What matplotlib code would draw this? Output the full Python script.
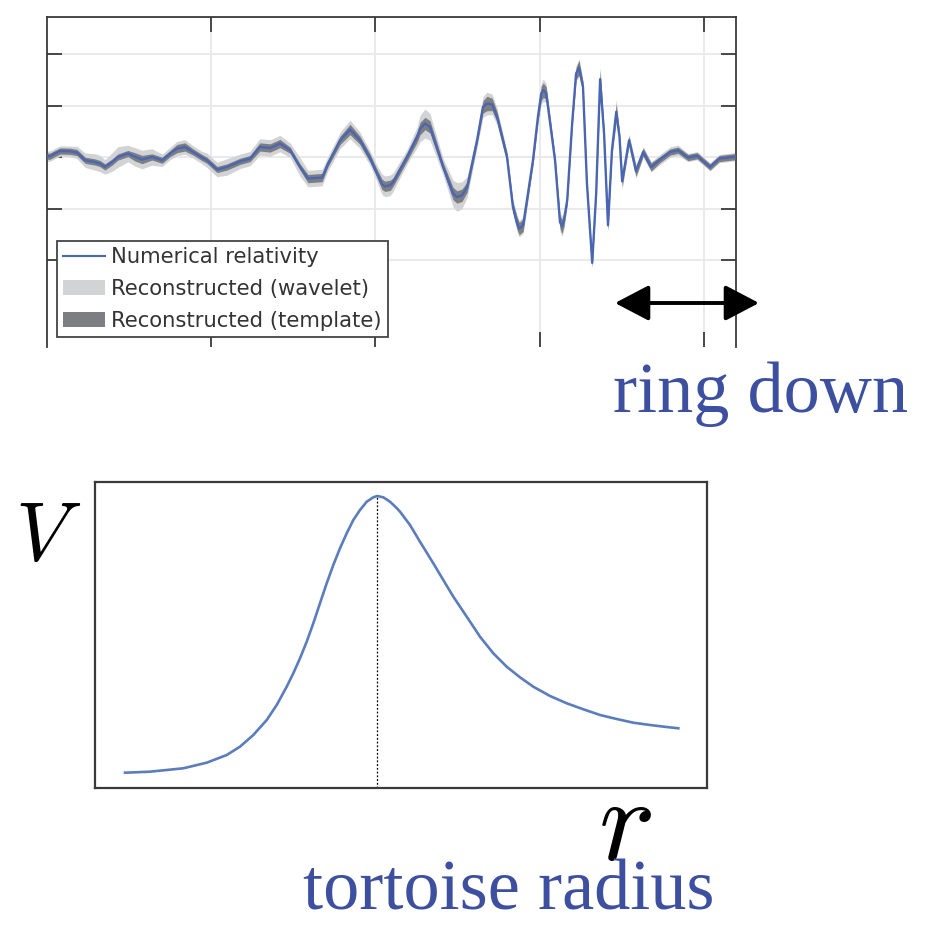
import numpy as np
import matplotlib.pyplot as plt
from matplotlib.lines import Line2D
from matplotlib.patches import Patch, FancyArrowPatch

plt.rcParams['mathtext.fontset'] = 'cm'

# --- top panel: strain (1e-21) vs time (s) ---
t = [0.2503, 0.2512, 0.2527, 0.2543, 0.2573, 0.2594, 0.2619, 0.2649, 0.2664, 0.2679,
     0.2701, 0.2719, 0.2749, 0.2771, 0.2792, 0.2822, 0.2853, 0.2877, 0.2898, 0.2922,
     0.2947, 0.2974, 0.2989, 0.3020, 0.3050, 0.3090, 0.3120, 0.3150, 0.3181, 0.3211,
     0.3242, 0.3272, 0.3296, 0.3339, 0.3357, 0.3394, 0.3424, 0.3454, 0.3485, 0.3506,
     0.3521, 0.3530, 0.3546, 0.3555, 0.3597, 0.3628, 0.3637, 0.3652, 0.3667, 0.3707,
     0.3737, 0.3749, 0.3764, 0.3780, 0.3810, 0.3828, 0.3840, 0.3856, 0.3871, 0.3901,
     0.3919, 0.3932, 0.3938, 0.3950, 0.3980, 0.3995, 0.4005, 0.4011, 0.4020, 0.4047,
     0.4062, 0.4068, 0.4074, 0.4084, 0.4099, 0.4111, 0.4120, 0.4132, 0.4144, 0.4160,
     0.4172, 0.4184, 0.4196, 0.4208, 0.4220, 0.4233, 0.4243, 0.4251, 0.4272, 0.4293,
     0.4315, 0.4339, 0.4366, 0.4397, 0.4421, 0.4451, 0.4479, 0.4518, 0.4546, 0.4594]
nr = [0.010, 0.010, 0.036, 0.061, 0.058, 0.046, -0.029, -0.046, -0.061, -0.094,
      -0.046, 0.003, 0.036, 0.003, -0.022, 0.003, -0.029, 0.036, 0.084, 0.100,
      0.051, -0.003, -0.029, -0.119, -0.094, -0.039, -0.013, 0.100, 0.090, 0.133,
      0.068, -0.094, -0.207, -0.197, -0.061, 0.165, 0.269, 0.165, -0.010, -0.158,
      -0.262, -0.282, -0.272, -0.240, 0.003, 0.197, 0.279, 0.327, 0.294, -0.094,
      -0.352, -0.385, -0.369, -0.288, 0.165, 0.488, 0.521, 0.512, 0.391, 0.003,
      -0.483, -0.644, -0.692, -0.660, -0.029, 0.391, 0.618, 0.650, 0.624, -0.029,
      -0.628, -0.670, -0.612, -0.417, 0.327, 0.813, 0.869, 0.682, -0.255, -1.024,
      -0.352, 0.757, 0.230, -0.660, 0.068, 0.440, 0.197, -0.233, 0.165, -0.136,
      0.051, -0.094, -0.022, 0.051, 0.068, -0.003, 0.015, -0.094, -0.013, 0.005]
# half widths of the reconstruction bands
wavelet_hw = [0.05, 0.05, 0.05, 0.05, 0.05, 0.06, 0.07, 0.08, 0.08, 0.07,
              0.09, 0.10, 0.08, 0.09, 0.09, 0.08, 0.06, 0.06, 0.07, 0.07,
              0.06, 0.06, 0.07, 0.07, 0.08, 0.07, 0.07, 0.08, 0.08, 0.08,
              0.07, 0.09, 0.08, 0.08, 0.07, 0.08, 0.09, 0.08, 0.07, 0.08,
              0.10, 0.10, 0.10, 0.09, 0.07, 0.10, 0.13, 0.14, 0.13, 0.08,
              0.13, 0.14, 0.13, 0.10, 0.07, 0.10, 0.11, 0.10, 0.08, 0.06,
              0.07, 0.08, 0.08, 0.08, 0.06, 0.08, 0.10, 0.11, 0.09, 0.05,
              0.09, 0.10, 0.09, 0.06, 0.05, 0.07, 0.09, 0.06, 0.04, 0.05,
              0.04, 0.12, 0.05, 0.06, 0.05, 0.12, 0.05, 0.08, 0.06, 0.07,
              0.05, 0.05, 0.05, 0.05, 0.05, 0.04, 0.04, 0.04, 0.04, 0.04]
template_hw = [0.03, 0.03, 0.03, 0.03, 0.03, 0.03, 0.03, 0.03, 0.03, 0.03,
               0.03, 0.03, 0.03, 0.04, 0.04, 0.03, 0.03, 0.03, 0.04, 0.04,
               0.03, 0.03, 0.03, 0.03, 0.03, 0.03, 0.03, 0.04, 0.04, 0.04,
               0.03, 0.03, 0.04, 0.04, 0.03, 0.04, 0.05, 0.04, 0.04, 0.04,
               0.05, 0.05, 0.05, 0.04, 0.04, 0.05, 0.06, 0.06, 0.06, 0.04,
               0.06, 0.06, 0.06, 0.05, 0.04, 0.06, 0.07, 0.06, 0.05, 0.04,
               0.05, 0.06, 0.06, 0.06, 0.04, 0.05, 0.07, 0.07, 0.06, 0.04,
               0.06, 0.07, 0.06, 0.04, 0.04, 0.06, 0.07, 0.05, 0.03, 0.04,
               0.03, 0.09, 0.04, 0.05, 0.04, 0.08, 0.04, 0.05, 0.04, 0.05,
               0.04, 0.04, 0.03, 0.03, 0.03, 0.03, 0.03, 0.03, 0.03, 0.03]
x_ticks = [0.30, 0.35, 0.40, 0.45]
y_ticks = [-1.0, -0.5, 0.0, 0.5, 1.0]
legend_labels = ['Numerical relativity', 'Reconstructed (wavelet)', 'Reconstructed (template)']

# --- bottom panel: potential vs tortoise radius (arbitrary units) ---
r_star = [4.90, 8.99, 14.43, 18.25, 21.52, 23.69, 25.87, 28.06, 29.69, 31.32,
          32.40, 33.50, 34.59, 35.67, 36.76, 37.86, 38.94, 40.03, 41.13, 42.21,
          43.30, 44.40, 45.47, 46.13, 47.11, 48.20, 49.30, 49.84, 51.47, 53.10,
          55.28, 56.91, 58.55, 60.74, 62.91, 65.08, 67.27, 69.44, 71.62, 74.35,
          77.08, 79.79, 82.52, 85.24, 87.96, 90.69, 93.41, 95.31]
V = [5.00, 5.33, 6.44, 8.27, 10.78, 13.50, 17.32, 22.22, 27.12, 33.10,
     37.48, 42.39, 47.81, 53.82, 60.36, 66.90, 72.88, 78.33, 83.24, 87.58,
     90.85, 93.56, 95.00, 95.42, 95.00, 93.56, 91.50, 90.29, 85.95, 80.49,
     73.43, 67.97, 62.52, 55.98, 49.44, 44.02, 39.64, 36.18, 33.10, 30.07,
     27.68, 25.72, 23.86, 22.55, 21.34, 20.59, 19.93, 19.51]
r_peak = 46.13

t = np.array(t)
nr = np.array(nr)
wavelet_hw = np.array(wavelet_hw)
template_hw = np.array(template_hw)

W, H = 934, 927
fig = plt.figure(figsize=(W / 100, H / 100), dpi=100)

def fx(px):
    return px / W

def fy(py):
    return 1 - py / H

# top panel
ax1 = fig.add_axes([fx(47), fy(347), (736 - 47) / W, (347 - 17) / H])
ax1.fill_between(t, nr - wavelet_hw, nr + wavelet_hw, color='#d2d3d5', lw=0, zorder=2)
ax1.fill_between(t, nr - template_hw, nr + template_hw, color='#7d7e82', lw=0, zorder=3)
ax1.plot(t, nr, color='#4a66b3', lw=1.7, zorder=4)
ax1.set_xlim(0.2503, 0.4597)
ax1.set_ylim(-1.84, 1.36)
ax1.set_xticks(x_ticks)
ax1.set_yticks(y_ticks)
ax1.set_xticklabels([])
ax1.set_yticklabels([])
ax1.grid(True, color='#e8e8e8', lw=1.3, zorder=0)
ax1.set_axisbelow(True)
ax1.tick_params(direction='in', length=11, width=1.3, color='#3a3a3a',
                top=True, right=True, bottom=True, left=True)
for s in ['left', 'right', 'top']:
    ax1.spines[s].set_color('#3a3a3a')
    ax1.spines[s].set_linewidth(1.3)
ax1.spines['bottom'].set_visible(False)

handles = [Line2D([], [], color='#4a66b3', lw=1.5),
           Patch(facecolor='#d2d3d5', edgecolor='none'),
           Patch(facecolor='#7d7e82', edgecolor='none')]
leg = ax1.legend(handles, legend_labels, loc='lower left',
                 bbox_to_anchor=(10 / 689, 10 / 330), borderaxespad=0,
                 fontsize=15.2, fancybox=False, framealpha=1, edgecolor='#444444',
                 handlelength=1.95, handletextpad=0.3, borderpad=0.3,
                 labelspacing=0.56)
leg.get_frame().set_linewidth(1.3)
for txt in leg.get_texts():
    txt.set_color('#333333')

# ring-down arrow (spills past the axes edge)
arrow = FancyArrowPatch((fx(615), fy(303)), (fx(759), fy(303)),
                        transform=fig.transFigure, arrowstyle='<|-|>',
                        mutation_scale=20, lw=2.8, color='black',
                        shrinkA=0, shrinkB=0)
arrow.set_arrowstyle('<|-|>', head_length=1.05, head_width=0.55)
fig.add_artist(arrow)

blue_txt = '#3d4f9f'
fig.text(fx(613), fy(412), 'ring down', fontsize=52, color=blue_txt,
         family='Liberation Serif', ha='left', va='baseline')

# bottom panel
ax2 = fig.add_axes([fx(95), fy(788), (707 - 95) / W, (788 - 482) / H])
ax2.plot(r_star, V, color='#5b7dbd', lw=1.9)
ax2.plot([r_peak, r_peak], [0, max(V)], color='black', lw=0.9, ls=(0, (1.5, 1.5)))
ax2.set_xlim(0, 100)
ax2.set_ylim(0, 100)
ax2.set_xticks([])
ax2.set_yticks([])
for s in ax2.spines.values():
    s.set_color('#3a3a3a')
    s.set_linewidth(1.6)

fig.text(fx(48), fy(537), r'$V$', fontsize=60, ha='center', va='center')
fig.text(fx(625), fy(860), r'$r$', fontsize=86, ha='center', va='baseline')
fig.text(fx(303), fy(910), 'tortoise radius', fontsize=52, color=blue_txt,
         family='Liberation Serif', ha='left', va='baseline')

fig.savefig('out.png', dpi=100)
